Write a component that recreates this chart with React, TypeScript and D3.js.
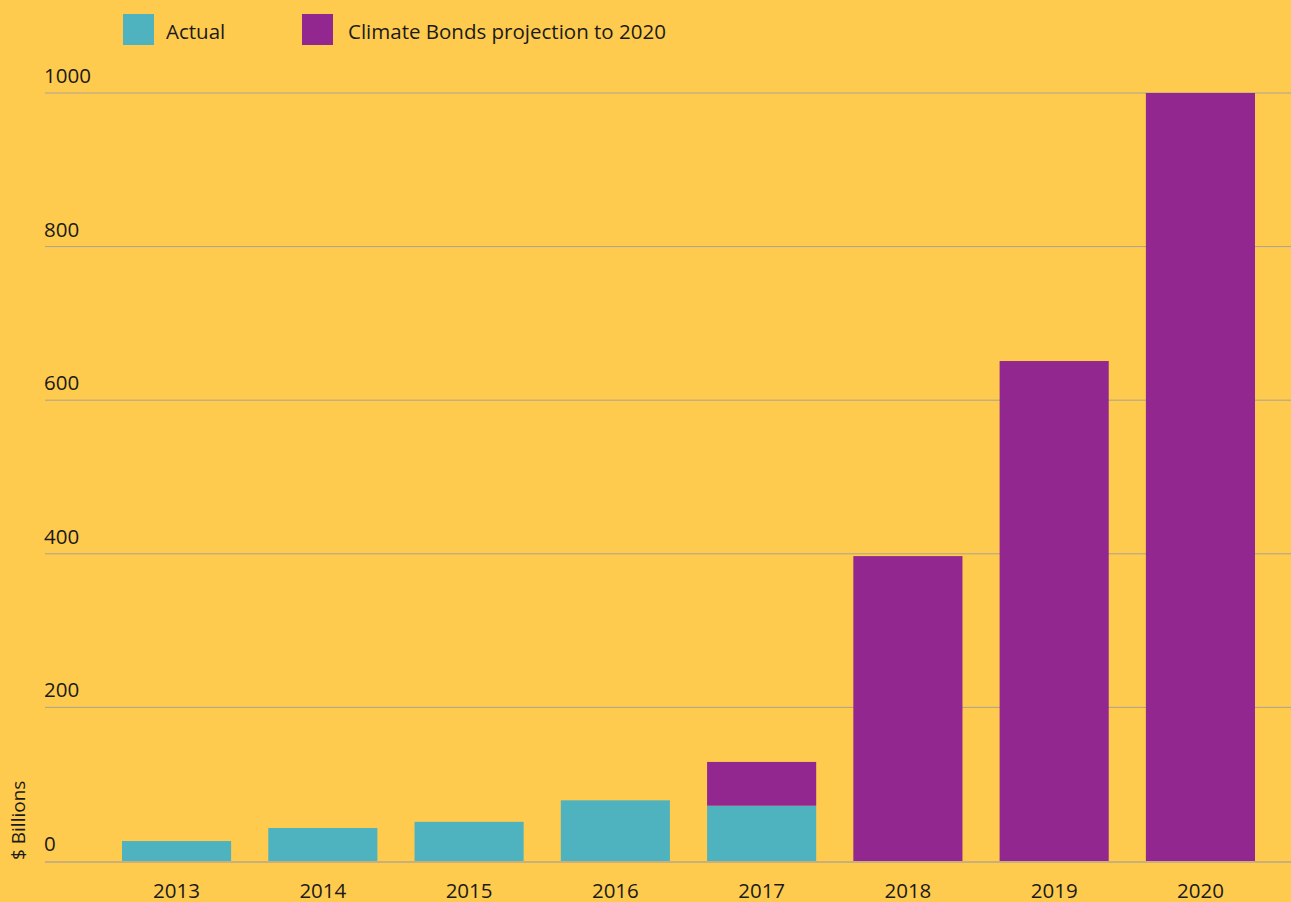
import React from "react";
import * as d3 from "d3";

const years = ["2013", "2014", "2015", "2016", "2017", "2018", "2019", "2020"];
const actual = [26, 43, 51, 79, 72, 0, 0, 0];
const projection = [0, 0, 0, 0, 57, 397, 651, 1000];
const yTicks = [0, 200, 400, 600, 800, 1000];
const legendItems = ["Actual", "Climate Bonds projection to 2020"];

const W = 1291;
const H = 902;
const BG = "#FFCB4E";
const TEAL = "#4FB3BF";
const PURPLE = "#91278F";
const FONT = "'Open Sans', 'Noto Sans', sans-serif";

export default function App() {
  const x = d3.scaleBand<string>().domain(years).range([122, 1255]).paddingInner(0.254).paddingOuter(0);
  const y = d3.scaleLinear().domain([0, 1000]).range([861, 93]);

  const rows = years.map((yr, i) => ({ year: yr, actual: actual[i], projection: projection[i] }));
  const stack = d3.stack<any>().keys(["actual", "projection"])(rows);
  const colors = [TEAL, PURPLE];

  return (
    <svg width={W} height={H} style={{ position: "absolute", left: 0, top: 0, display: "block" }}>
      <rect x={0} y={0} width={W} height={H} fill={BG} />
      {yTicks.map((t) =>
        t === 0 ? null : (
          <line key={t} x1={45} x2={W} y1={y(t)} y2={y(t)} stroke="#aaa292" strokeWidth={1} />
        )
      )}
      {stack.map((series, si) =>
        series.map((d, i) =>
          d[1] - d[0] > 0 ? (
            <rect
              key={si + "-" + i}
              x={x(years[i])}
              y={y(d[1])}
              width={x.bandwidth()}
              height={y(d[0]) - y(d[1])}
              fill={colors[si]}
            />
          ) : null
        )
      )}
      <line x1={45} x2={W} y1={y(0) + 1} y2={y(0) + 1} stroke="#c9b07a" strokeWidth={2} />
      {yTicks.map((t) => (
        <text key={t} x={44} y={y(t) - 10} fontFamily={FONT} fontSize={20.5} fill="#1a1a1a">
          {t}
        </text>
      ))}
      {years.map((yr) => (
        <text
          key={yr}
          x={(x(yr) as number) + x.bandwidth() / 2}
          y={898}
          textAnchor="middle"
          fontFamily={FONT}
          fontSize={20.5}
          fill="#1a1a1a"
        >
          {yr}
        </text>
      ))}
      <text
        transform="translate(25,860) rotate(-90)"
        fontFamily={FONT}
        fontSize={19}
        fill="#1a1a1a"
      >
        $ Billions
      </text>
      <rect x={123} y={14} width={31} height={31} fill={TEAL} />
      <text x={166} y={39} fontFamily={FONT} fontSize={20.5} fill="#1a1a1a">
        {legendItems[0]}
      </text>
      <rect x={302} y={14} width={31} height={31} fill={PURPLE} />
      <text x={348} y={39} fontFamily={FONT} fontSize={20.5} fill="#1a1a1a">
        {legendItems[1]}
      </text>
    </svg>
  );
}
